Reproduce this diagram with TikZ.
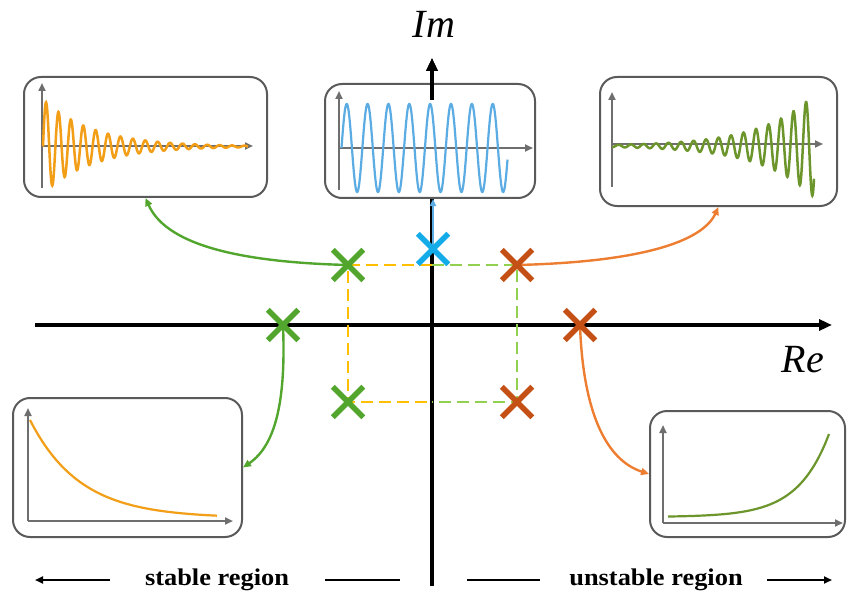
\documentclass[tikz,border=0pt]{standalone}
\usepackage{fontspec}
\setmainfont{Liberation Serif}
\usetikzlibrary{arrows.meta,shapes.misc}
\definecolor{orangeC}{RGB}{242,158,22}
\definecolor{blueC}{RGB}{92,172,228}
\definecolor{oliveC}{RGB}{108,150,44}
\definecolor{xgreen}{RGB}{82,166,46}
\definecolor{xblue}{RGB}{20,172,232}
\definecolor{xbrown}{RGB}{196,80,22}
\definecolor{arrOrange}{RGB}{237,125,49}
\definecolor{dashYellow}{RGB}{255,190,0}
\definecolor{dashGreen}{RGB}{146,208,80}
\definecolor{boxGray}{RGB}{90,90,90}
\definecolor{axGray}{RGB}{110,110,110}
\begin{document}
\begin{tikzpicture}[x=1pt,y=-1pt,
  plotbox/.style={draw=boxGray, line width=2pt, fill=white, rounded corners=17pt, inner sep=0pt},
  inaxis/.style={draw=axGray, line width=2pt, -{Triangle[length=8pt,width=7pt]}},
  mainaxis/.style={draw=black, line width=4pt, -{Triangle[length=13pt,width=11pt]}},
  xmark/.style={cross out, draw=#1, line width=5.5pt, minimum size=25pt, inner sep=0pt},
  curvearrow/.style={draw=#1, line width=2.4pt, -{Triangle[length=8pt,width=7pt]}},
  dashline/.style={draw=#1, line width=2pt, dash pattern=on 12pt off 6pt},
  bline/.style={draw=black, line width=2pt},
  regtext/.style={font=\fontsize{24}{28}\selectfont\bfseries, inner sep=0pt},
  axtext/.style={font=\fontsize{40}{44}\selectfont\itshape, inner sep=0pt}
]
\useasboundingbox (0,0) rectangle (848,596);

% main axes
\coordinate (hl) at (35,325);
\coordinate (hr) at (832,325);
\coordinate (vb) at (432,586);
\coordinate (vt) at (432,58);
\coordinate (vm) at (432,100);
\draw[mainaxis] (hl) -- (hr);
\draw[mainaxis] (vb) -- (vt);

% boxes
\node[plotbox, minimum width=243pt, minimum height=120pt] (b1) at (145.5,137) {};
\node[plotbox, minimum width=210pt, minimum height=114pt] (b2) at (430,141) {};
\node[plotbox, minimum width=237pt, minimum height=129pt] (b3) at (718.5,141.5) {};
\node[plotbox, minimum width=229pt, minimum height=139pt] (b4) at (127.5,467.5) {};
\node[plotbox, minimum width=195pt, minimum height=126pt] (b5) at (747.5,474) {};
\draw[mainaxis] (vm) -- (vt);

% box 1: damped oscillation
\draw[inaxis] (42,188) -- (42,83);
\draw[inaxis] (42,146) -- (253,146);
\draw[orangeC, line width=2.5pt] plot[domain=0:205, samples=600, smooth] ({43+\x}, {146.5 - 47*exp(-0.02*\x)*sin(29.032*\x)});

% box 2: sustained oscillation
\draw[inaxis] (339,190) -- (339,91);
\draw[inaxis] (339,148) -- (533,148);
\draw[blueC, line width=2.2pt] plot[domain=0:166, samples=500, smooth] ({341.5+\x}, {148 - 44*sin(17.258*\x)});

% box 3: growing oscillation
\draw[inaxis] (612,187) -- (612,92);
\draw[inaxis] (612,144) -- (823,144);
\draw[oliveC, line width=2.5pt] plot[domain=-194:8, samples=600, smooth] ({806+\x}, {146 - 44*exp(0.019*\x)*cos(28.8*\x)});

% box 4: decaying exponential
\draw[inaxis] (28,521) -- (28,408);
\draw[inaxis] (28,521) -- (233,521);
\draw[orangeC, line width=2.2pt] plot[domain=0:187, samples=150, smooth] ({30+\x}, {518 - 98*exp(-0.02*\x)});

% box 5: growing exponential
\draw[inaxis] (663,523) -- (663,425);
\draw[inaxis] (663,523) -- (843,523);
\draw[oliveC, line width=2.2pt] plot[domain=-161:0, samples=150, smooth] ({829+\x}, {517 - 83*exp(0.032*\x)});

% pole positions
\coordinate (pg1) at (348,265);
\coordinate (pg2) at (283,325);
\coordinate (pg3) at (348,402);
\coordinate (pb) at (433,249);
\coordinate (pr1) at (517,265);
\coordinate (pr2) at (580,325);
\coordinate (pr3) at (517,402);
\coordinate (mt) at (432,265);
\coordinate (mb) at (432,402);

% dashed rectangle
\draw[dashline=dashYellow] (mt) -- (pg1) -- (pg3) -- (mb);
\draw[dashline=dashGreen] (mt) -- (pr1) -- (pr3) -- (mb);

% connectors
\draw[curvearrow=xgreen] (pg1) .. controls (230,262) and (165,242) .. (b1.south);
\draw[curvearrow=arrOrange] (pr1) .. controls (640,262) and (702,242) .. (b3.south);
\draw[curvearrow=xgreen] (pg2) .. controls (286,400) and (276,445) .. (b4.east);
\draw[curvearrow=arrOrange] (pr2) .. controls (583,412) and (606,460) .. (b5.west);
\draw[draw=blueC, line width=2pt, -{Triangle[length=7pt,width=6pt]}] (pb) -- (pb |- b2.south);

% pole markers
\node[xmark=xgreen] (g1) at (pg1) {};
\node[xmark=xgreen] (g2) at (pg2) {};
\node[xmark=xgreen] (g3) at (pg3) {};
\node[xmark=xblue] (bx) at (pb) {};
\node[xmark=xbrown] (r1) at (pr1) {};
\node[xmark=xbrown] (r2) at (pr2) {};
\node[xmark=xbrown] (r3) at (pr3) {};

% labels
\node[axtext] (im) at (434,24) {Im};
\node[axtext] (re) at (803,360) {Re};
\node[regtext] (st) at (217,580) {\scalebox{1.1}[1]{stable region}};
\node[regtext] (ust) at (656,580) {\scalebox{1.1}[1]{unstable region}};

% region lines
\coordinate (la) at (35,580);
\coordinate (lb) at (110,580);
\coordinate (lc) at (325,580);
\coordinate (ld) at (400,580);
\coordinate (le) at (467,580);
\coordinate (lf) at (540,580);
\coordinate (lg) at (767,580);
\coordinate (lh) at (832,580);
\draw[bline, -{Triangle[length=8pt,width=7pt]}] (lb) -- (la);
\draw[bline] (lc) -- (ld);
\draw[bline] (le) -- (lf);
\draw[bline, -{Triangle[length=8pt,width=7pt]}] (lg) -- (lh);
\end{tikzpicture}
\end{document}
